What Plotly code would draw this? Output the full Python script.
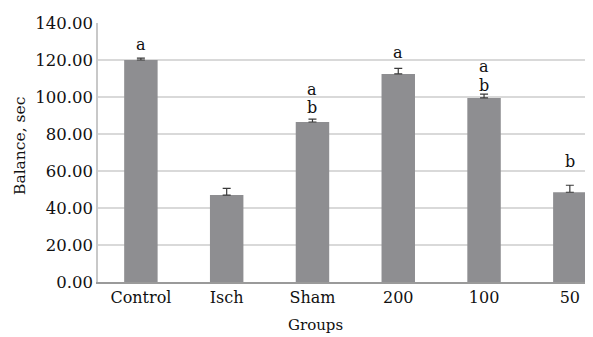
import plotly.graph_objects as go

groups = ["Control", "Isch", "Sham", "200", "100", "50"]
balance = [120.0, 47.0, 86.5, 112.5, 99.5, 48.5]
errors = [1.0, 3.6, 1.5, 3.0, 2.0, 3.8]
letters = [["a"], [], ["b", "a"], ["a"], ["b", "a"], ["b"]]
label_y = [[128.5], [], [94.5, 104.0], [123.8], [106.3, 116.4], [65.0]]
y_ticks = [0, 20, 40, 60, 80, 100, 120, 140]

FONT = "DejaVu Serif"
OFF = 8  # default page body margin
L, R, T, B = 98 - OFF, 0, 23 - OFF, 55
W, H = 593 - OFF, 337 - OFF

fig = go.Figure()
fig.add_trace(go.Bar(
    x=groups, y=balance,
    marker=dict(color="#8e8e91", line=dict(width=0)),
    error_y=dict(type="data", array=errors, symmetric=False, arrayminus=[0]*len(errors),
                 color="#3a3a3a", thickness=1.2, width=4),
))

annotations = []
for i, (labs, ys) in enumerate(zip(letters, label_y)):
    for t, yy in zip(labs, ys):
        annotations.append(dict(x=i, y=yy, xref="x", yref="y", text=t, showarrow=False,
                                font=dict(family=FONT, size=16, color="#111"),
                                xanchor="center", yanchor="middle"))
plot_w = W - L - R
plot_h = H - T - B
annotations.append(dict(xref="paper", yref="paper", x=(315 - OFF - L) / plot_w,
                        y=-(325 - OFF - (H - B)) / plot_h,
                        text="Groups", showarrow=False, xanchor="center", yanchor="middle",
                        font=dict(family=FONT, size=15, color="#111")))
annotations.append(dict(xref="paper", yref="paper", x=-(L - (20 - OFF)) / plot_w,
                        y=(H - B - (146 - OFF)) / plot_h,
                        text="Balance, sec", showarrow=False, xanchor="center", yanchor="middle",
                        textangle=-90, font=dict(family=FONT, size=15.5, color="#111")))

fig.update_layout(
    width=W, height=H,
    margin=dict(l=L, r=R, t=T, b=B, autoexpand=False),
    paper_bgcolor="white", plot_bgcolor="white",
    bargap=0.61,
    showlegend=False,
    annotations=annotations,
    font=dict(family=FONT, size=16, color="#111"),
)
fig.update_xaxes(range=[-0.5, 5.27], showline=True, linecolor="#9a9a9a", linewidth=1.5,
                 ticks="", showgrid=False, automargin=False,
                 tickfont=dict(family=FONT, size=16, color="#111"))
fig.update_yaxes(range=[0, 140], tickvals=y_ticks, tickformat=".2f", showline=True,
                 linecolor="#c8c8c8", linewidth=1.5, gridcolor="#d9d9d9", gridwidth=1.5,
                 ticks="", zeroline=False, automargin=False,
                 tickfont=dict(family=FONT, size=16.5, color="#111"))
fig.write_html("out.html")
